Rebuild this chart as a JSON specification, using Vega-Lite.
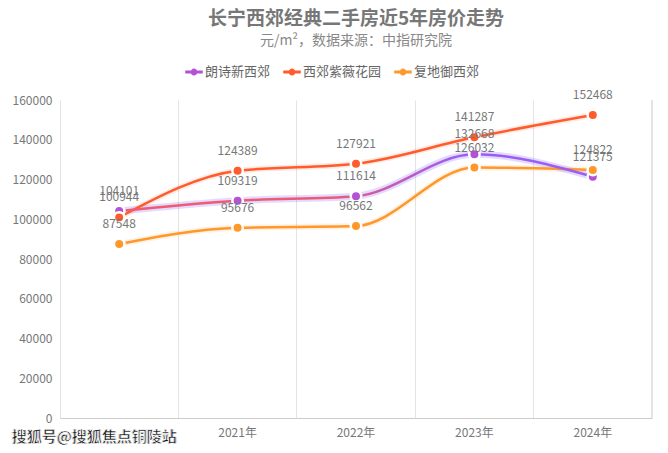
{
  "$schema": "https://vega.github.io/schema/vega-lite/v6.json",
  "autosize": {"type": "fit", "contains": "padding"},
  "width": 668,
  "height": 453,
  "padding": {"left": 12, "right": 15, "top": 15, "bottom": 8},
  "background": "white",
  "title": {
    "text": "长宁西郊经典二手房近5年房价走势",
    "subtitle": "元/m²，数据来源：中指研究院",
    "anchor": "middle",
    "font": "Noto Sans CJK SC",
    "fontSize": 19,
    "fontWeight": "bold",
    "color": "#777777",
    "subtitleFont": "Noto Sans CJK SC",
    "subtitleFontSize": 14,
    "subtitleColor": "#888888",
    "subtitlePadding": 5,
    "offset": 41
  },
  "config": {
    "view": {"stroke": null},
    "font": "Noto Sans CJK SC"
  },
  "data": {
    "values": [
      {"year": "2020年", "series": "朗诗新西郊", "price": 104101},
      {"year": "2021年", "series": "朗诗新西郊", "price": 109319},
      {"year": "2022年", "series": "朗诗新西郊", "price": 111614},
      {"year": "2023年", "series": "朗诗新西郊", "price": 132668},
      {"year": "2024年", "series": "朗诗新西郊", "price": 121375},
      {"year": "2020年", "series": "西郊紫薇花园", "price": 100944},
      {"year": "2021年", "series": "西郊紫薇花园", "price": 124389},
      {"year": "2022年", "series": "西郊紫薇花园", "price": 127921},
      {"year": "2023年", "series": "西郊紫薇花园", "price": 141287},
      {"year": "2024年", "series": "西郊紫薇花园", "price": 152468},
      {"year": "2020年", "series": "复地御西郊", "price": 87548},
      {"year": "2021年", "series": "复地御西郊", "price": 95676},
      {"year": "2022年", "series": "复地御西郊", "price": 96562},
      {"year": "2023年", "series": "复地御西郊", "price": 126032},
      {"year": "2024年", "series": "复地御西郊", "price": 124822}
    ]
  },
  "encoding": {
    "x": {
      "field": "year",
      "type": "ordinal",
      "sort": null,
      "title": null,
      "scale": {
        "type": "band",
        "domain": ["2020年", "2021年", "2022年", "2023年", "2024年"],
        "paddingInner": 0,
        "paddingOuter": 0
      },
      "axis": {
        "labelAngle": 0,
        "labelColor": "#777777",
        "labelFontSize": 12,
        "labelPadding": 9,
        "labelExpr": "datum.label == '2020年' ? '' : datum.label",
        "ticks": false,
        "domainColor": "#cccccc",
        "grid": true,
        "gridColor": "#e3e3e3",
        "bandPosition": 0
      }
    },
    "y": {
      "field": "price",
      "type": "quantitative",
      "title": null,
      "scale": {"domain": [0, 160000]},
      "axis": {
        "values": [0, 20000, 40000, 60000, 80000, 100000, 120000, 140000, 160000],
        "format": "d",
        "labelColor": "#777777",
        "labelFontSize": 12,
        "labelPadding": 8,
        "ticks": false,
        "domain": false,
        "grid": false
      }
    }
  },
  "layer": [
    {
      "mark": {"type": "rule", "color": "#e3e3e3", "strokeWidth": 1},
      "encoding": {
        "x": {"datum": "2024年", "bandPosition": 1},
        "y": null
      }
    },
    {
      "transform": [{"filter": "datum.series != '朗诗新西郊'"}],
      "mark": {"type": "line", "interpolate": "monotone", "strokeWidth": 6, "opacity": 0.12},
      "encoding": {
        "color": {
          "field": "series",
          "type": "nominal",
          "scale": {
            "domain": ["朗诗新西郊", "西郊紫薇花园", "复地御西郊"],
            "range": ["#b452d6", "#ff5b2c", "#ff982a"]
          },
          "legend": {
            "orient": "none",
            "legendX": 127,
            "legendY": -35,
            "direction": "horizontal",
            "title": null,
            "labelColor": "#666666",
            "labelFontSize": 13,
            "symbolType": "M-1.6,0L-0.55,0M0.55,0L1.6,0M0.35,0A0.35,0.35 0 1,1 -0.35,0A0.35,0.35 0 1,1 0.35,0Z",
            "symbolSize": 120,
            "symbolStrokeWidth": 3,
            "symbolOpacity": 1,
            "columnPadding": 6,
            "labelOffset": 4
          }
        }
      }
    },
    {
      "transform": [{"filter": "datum.series == '朗诗新西郊'"}],
      "mark": {"type": "line", "interpolate": "monotone", "strokeWidth": 7, "opacity": 0.25, "color": "#8a6cff"},
      "encoding": {}
    },
    {
      "transform": [{"filter": "datum.series != '朗诗新西郊'"}],
      "mark": {"type": "line", "interpolate": "monotone", "strokeWidth": 2.5},
      "encoding": {
        "color": {"field": "series", "type": "nominal"}
      }
    },
    {
      "transform": [{"filter": "datum.series == '朗诗新西郊'"}],
      "mark": {
        "type": "line",
        "interpolate": "monotone",
        "strokeWidth": 2.5,
        "color": {
          "gradient": "linear",
          "x1": 0, "y1": 0, "x2": 1, "y2": 0,
          "stops": [
            {"offset": 0, "color": "#f25a70"},
            {"offset": 0.45, "color": "#ec5a7a"},
            {"offset": 0.72, "color": "#9c5cf4"},
            {"offset": 1, "color": "#9a5ef2"}
          ]
        }
      },
      "encoding": {}
    },
    {
      "mark": {"type": "point", "filled": true, "size": 110, "stroke": "white", "strokeWidth": 2.5, "strokeOpacity": 1, "opacity": 1},
      "encoding": {
        "color": {"field": "series", "type": "nominal"}
      }
    },
    {
      "mark": {"type": "text", "dy": -20, "fontSize": 12, "color": "#777777"},
      "encoding": {
        "text": {"field": "price", "type": "quantitative", "format": "d"}
      }
    },
    {
      "mark": {"type": "text", "text": "搜狐号@搜狐焦点铜陵站", "fontSize": 15, "fontWeight": "bold", "color": "#111111", "stroke": "white", "strokeWidth": 0.6, "align": "center", "dx": -25, "dy": 19},
      "encoding": {
        "x": {"datum": "2020年"},
        "y": {"datum": 0}
      }
    }
  ]
}
